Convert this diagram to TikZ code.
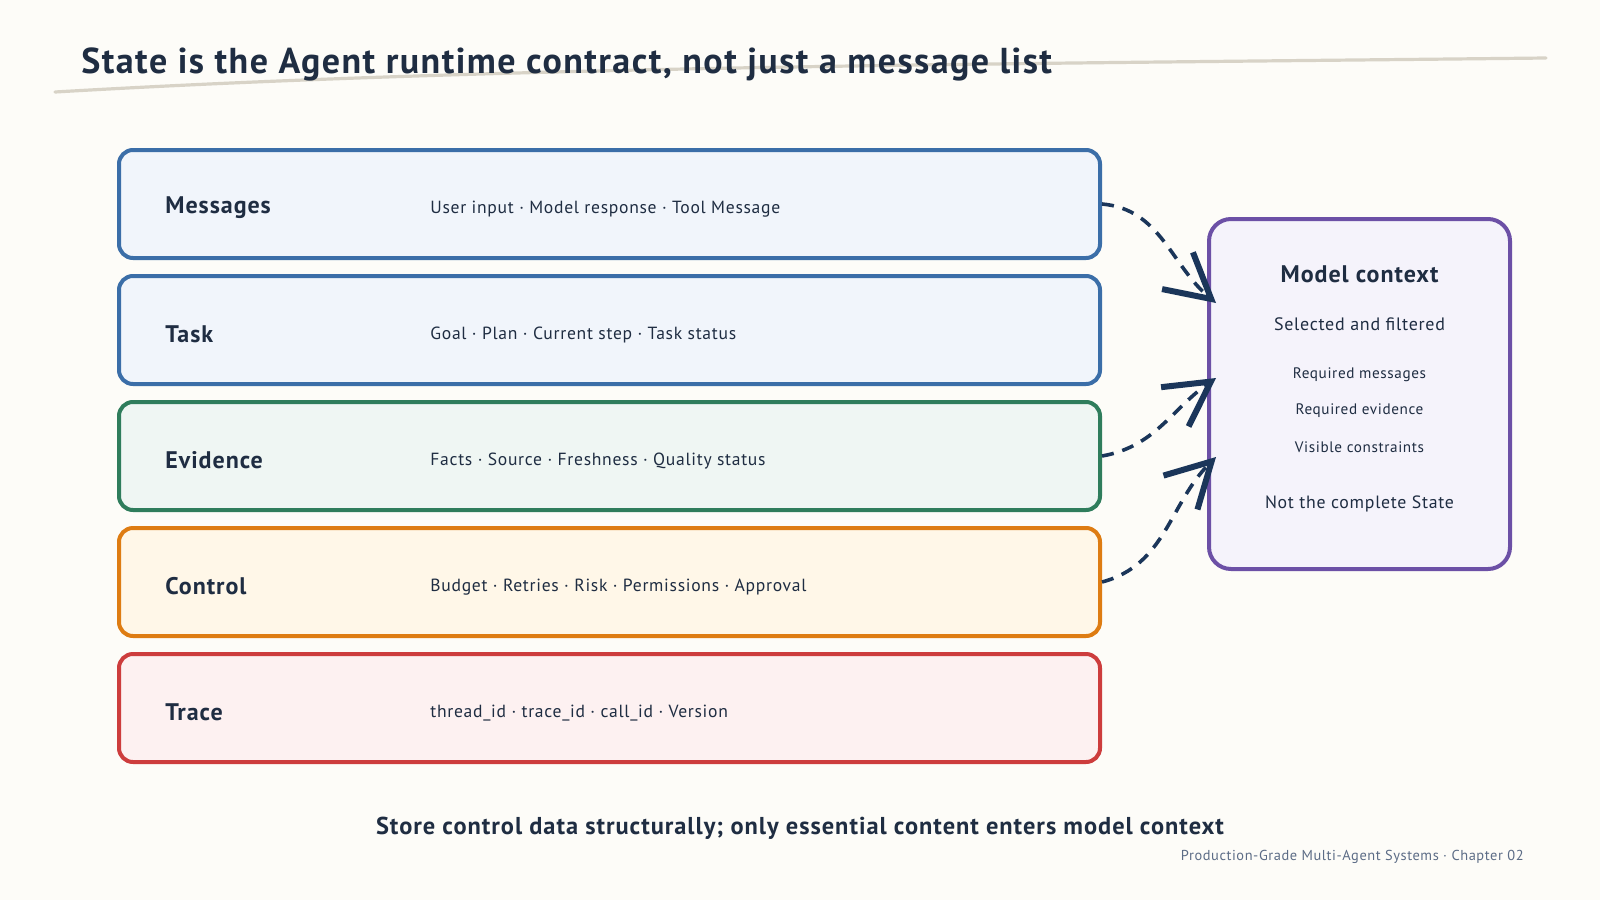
\documentclass[tikz,border=0pt]{standalone}
\usepackage{fontspec}
\setmainfont[LetterSpace=4]{PT Sans}
\usetikzlibrary{arrows.meta}
\definecolor{scPaper}{HTML}{FDFCF8}
\definecolor{scInk}{HTML}{1F2D42}
\definecolor{scArrow}{HTML}{1B365A}
\definecolor{scRule}{HTML}{D8D3C7}
\definecolor{scFoot}{HTML}{5C6C86}
\definecolor{scBlue}{HTML}{3B6EA8}
\definecolor{scBlueFill}{HTML}{F1F5FB}
\definecolor{scGreen}{HTML}{2F7D5C}
\definecolor{scGreenFill}{HTML}{EFF6F3}
\definecolor{scOrange}{HTML}{DE7C12}
\definecolor{scOrangeFill}{HTML}{FFF7E8}
\definecolor{scRed}{HTML}{CD3D3D}
\definecolor{scRedFill}{HTML}{FDF1F1}
\definecolor{scPurple}{HTML}{6C50A6}
\definecolor{scPurpleFill}{HTML}{F5F3FB}
\newcommand{\scFont}[1]{\fontsize{#1}{1.2\dimexpr #1\relax}\selectfont}

\begin{document}
\begin{tikzpicture}[x=0.5pt,y=-0.5pt,
  stateBox/.style={draw, line width=2pt, rounded corners=7pt, minimum width=490.5pt, minimum height=54pt},
  stateName/.style={anchor=west, inner sep=0pt, text=scInk, font={\bfseries\scFont{12pt}}},
  stateItems/.style={anchor=west, inner sep=0pt, text=scInk, font={\scFont{8.8pt}}},
  ctxText/.style={text=scInk, font={\scFont{8.4pt}}},
  feedArrow/.style={draw=scArrow, line width=1.8pt, dash pattern=on 6pt off 4.5pt,
    -{Straight Barb[length=22pt,width=24pt,line width=3pt]}}]
\useasboundingbox[fill=scPaper] (0,0) rectangle (1600,900);
% title
\draw[scRule, line width=1.6pt, line cap=round] (55,92) .. controls (500,66) and (1000,64) .. (1546,58);
\node[anchor=base west, inner sep=0pt, text=scInk, font={\bfseries\scFont{18pt}}] (title) at (81,73) {State is the Agent runtime contract, not just a message list};
% state layers
\node[stateBox, draw=scBlue, fill=scBlueFill] (msgBox) at (609.5,204) {};
\node[stateName] (msgName) at (165,208) {Messages};
\node[stateItems] (msgItems) at (430,209) {User input · Model response · Tool Message};
\node[stateBox, draw=scBlue, fill=scBlueFill] (taskBox) at (609.5,330) {};
\node[stateName] (taskName) at (165,334) {Task};
\node[stateItems] (taskItems) at (430,335) {Goal · Plan · Current step · Task status};
\node[stateBox, draw=scGreen, fill=scGreenFill] (evBox) at (609.5,456) {};
\node[stateName] (evName) at (165,460) {Evidence};
\node[stateItems] (evItems) at (430,461) {Facts · Source · Freshness · Quality status};
\node[stateBox, draw=scOrange, fill=scOrangeFill] (ctlBox) at (609.5,582) {};
\node[stateName] (ctlName) at (165,586) {Control};
\node[stateItems] (ctlItems) at (430,587) {Budget · Retries · Risk · Permissions · Approval};
\node[stateBox, draw=scRed, fill=scRedFill] (trcBox) at (609.5,708) {};
\node[stateName] (trcName) at (165,712) {Trace};
\node[stateItems] (trcItems) at (430,713) {thread\_id · trace\_id · call\_id · Version};
% model context
\node[draw=scPurple, fill=scPurpleFill, line width=2pt, rounded corners=11pt, minimum width=150.5pt, minimum height=175pt] (ctxBox) at (1359.5,394) {};
\node[text=scInk, font={\bfseries\scFont{12pt}}] (ctxTitle) at (1359.5,274) {Model context};
\node[ctxText, font={\scFont{9pt}}] (ctxSel) at (1359.5,324) {Selected and filtered};
\node[ctxText, font={\scFont{7.6pt}}] (ctxMsg) at (1359.5,375) {Required messages};
\node[ctxText, font={\scFont{7.6pt}}] (ctxEv) at (1359.5,411) {Required evidence};
\node[ctxText, font={\scFont{7.6pt}}] (ctxVis) at (1359.5,447) {Visible constraints};
\node[ctxText, font={\scFont{8.9pt}}] (ctxNot) at (1359.5,504) {Not the complete State};
\coordinate (ctxIn1) at (1216,303);
\coordinate (ctxIn2) at (1216,378);
\coordinate (ctxIn3) at (1216,457);
\draw[feedArrow] (msgBox.east) to[out=-5, in=140] (ctxIn1);
\draw[feedArrow] (evBox.east) to[out=10, in=-145] (ctxIn2);
\draw[feedArrow] (ctlBox.east) to[out=15, in=-135] (ctxIn3);
% footer
\node[text=scInk, font={\bfseries\scFont{12.2pt}}] (caption) at (800,828) {Store control data structurally; only essential content enters model context};
\node[anchor=east, inner sep=0pt, text=scFoot, font={\scFont{7.2pt}}] (footer) at (1524,857) {Production-Grade Multi-Agent Systems · Chapter 02};
\end{tikzpicture}
\end{document}
